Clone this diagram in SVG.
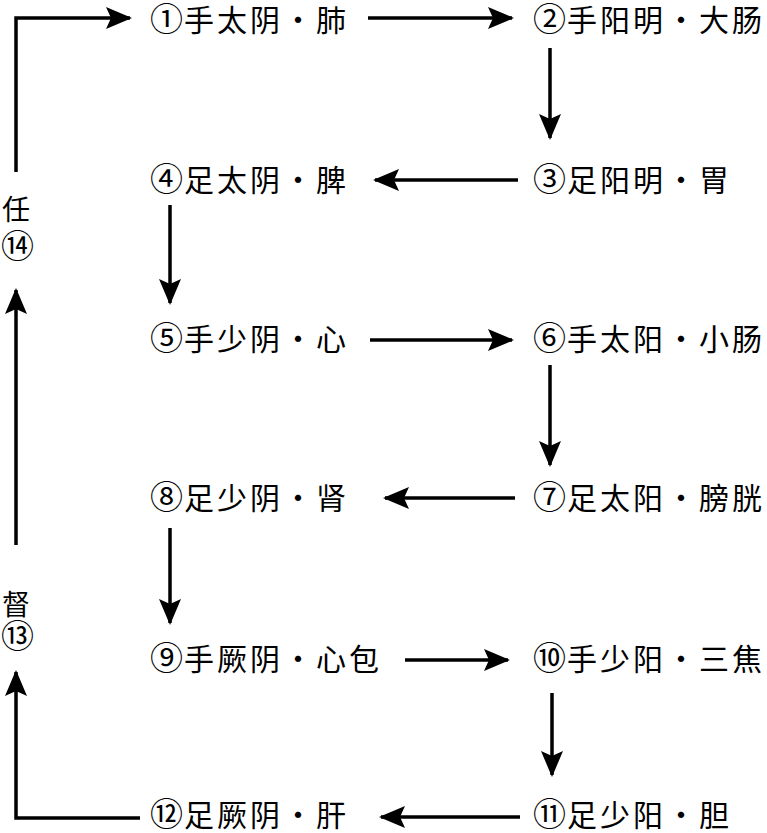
<svg xmlns="http://www.w3.org/2000/svg" width="767" height="833" viewBox="0 0 767 833">
<style>
.t{font-family:"Liberation Serif","Noto Sans CJK SC",serif;font-size:30px;fill:#000;letter-spacing:3px}
.s{font-family:"Liberation Serif","Noto Sans CJK SC",serif;font-size:28px;fill:#000}
.n{font-size:33px;letter-spacing:1px}
.m{font-size:33px}
.c{fill:none;stroke:#000;stroke-width:3.5}
</style>
<defs>
<marker id="ah" viewBox="0 0 26 22" refX="24" refY="11" markerWidth="26" markerHeight="22" markerUnits="userSpaceOnUse" orient="auto">
<path d="M0,0 L26,11 L0,22 L5,11 z" fill="#000"/>
</marker>
</defs>
<rect width="767" height="833" fill="#fff"/>
<g id="connectors">
<path class="c" d="M16,172 V18 H130" marker-end="url(#ah)"/>
<path class="c" d="M368,18 H512" marker-end="url(#ah)"/>
<path class="c" d="M550,48 V138" marker-end="url(#ah)"/>
<path class="c" d="M518,180 H375" marker-end="url(#ah)"/>
<path class="c" d="M170,205 V303" marker-end="url(#ah)"/>
<path class="c" d="M370,340 H512" marker-end="url(#ah)"/>
<path class="c" d="M550,365 V465" marker-end="url(#ah)"/>
<path class="c" d="M515,498 H385" marker-end="url(#ah)"/>
<path class="c" d="M170,528 V623" marker-end="url(#ah)"/>
<path class="c" d="M405,660 H508" marker-end="url(#ah)"/>
<path class="c" d="M552,693 V775" marker-end="url(#ah)"/>
<path class="c" d="M520,817 H381" marker-end="url(#ah)"/>
<path class="c" d="M16,545 V290" marker-end="url(#ah)"/>
<path class="c" d="M140,818 H16 V672" marker-end="url(#ah)"/>
</g>
<g id="n1"><text class="t" x="150" y="31"><tspan class="n">①</tspan>手太阴・肺</text></g>
<g id="n2"><text class="t" x="533" y="31"><tspan class="n">②</tspan>手阳明・大肠</text></g>
<g id="n3"><text class="t" x="533" y="191"><tspan class="n">③</tspan>足阳明・胃</text></g>
<g id="n4"><text class="t" x="150" y="191"><tspan class="n">④</tspan>足太阴・脾</text></g>
<g id="n5"><text class="t" x="150" y="350"><tspan class="n">⑤</tspan>手少阴・心</text></g>
<g id="n6"><text class="t" x="533" y="350"><tspan class="n">⑥</tspan>手太阳・小肠</text></g>
<g id="n7"><text class="t" x="533" y="509"><tspan class="n">⑦</tspan>足太阳・膀胱</text></g>
<g id="n8"><text class="t" x="150" y="509"><tspan class="n">⑧</tspan>足少阴・肾</text></g>
<g id="n9"><text class="t" x="150" y="670"><tspan class="n">⑨</tspan>手厥阴・心包</text></g>
<g id="n10"><text class="t" x="533" y="670"><tspan class="n">⑩</tspan>手少阳・三焦</text></g>
<g id="n11"><text class="t" x="533" y="826"><tspan class="n">⑪</tspan>足少阳・胆</text></g>
<g id="n12"><text class="t" x="150" y="826"><tspan class="n">⑫</tspan>足厥阴・肝</text></g>
<g id="n13"><text class="s" x="2" y="615">督</text><text class="s m" x="1" y="648">⑬</text></g>
<g id="n14"><text class="s" x="2" y="220">任</text><text class="s m" x="1" y="258">⑭</text></g>
</svg>
